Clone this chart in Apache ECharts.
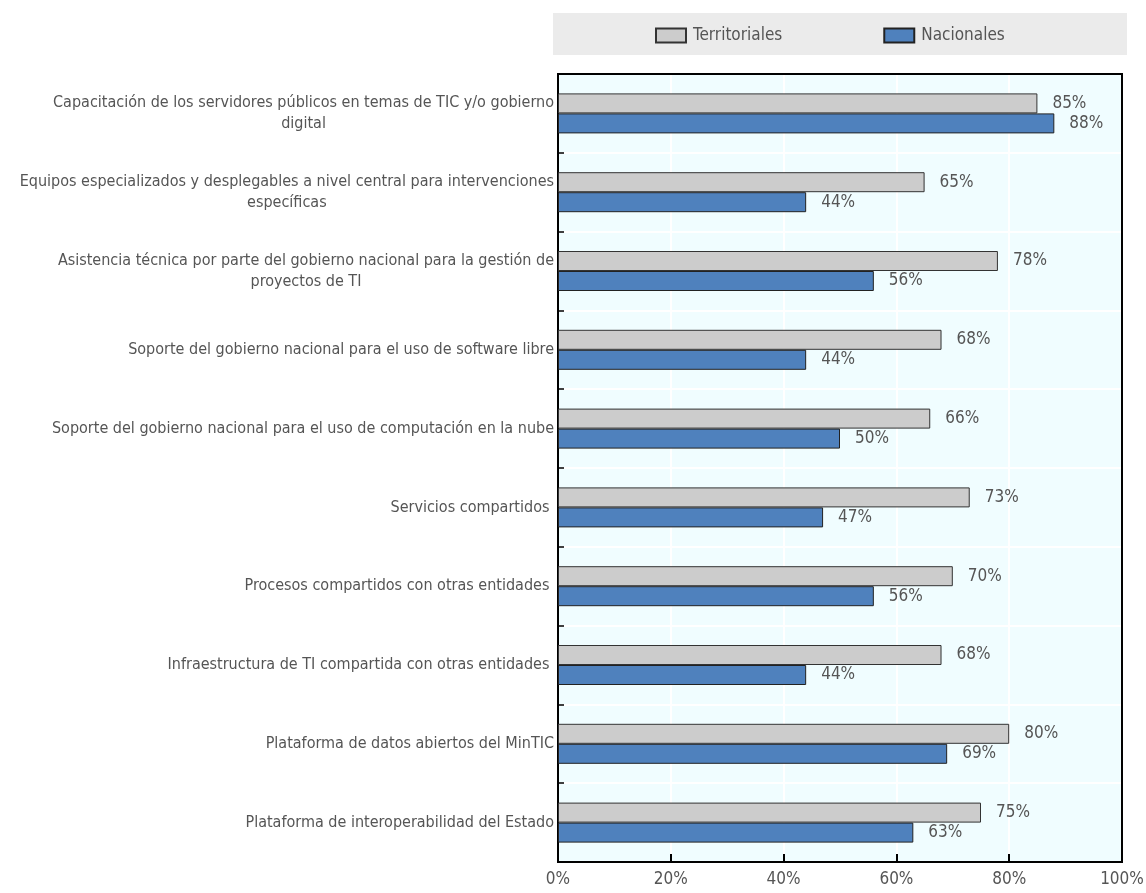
<!DOCTYPE html>
<html>
<head>
<meta charset="utf-8">
<script src="https://cdn.jsdelivr.net/npm/echarts@6/dist/echarts.min.js"></script>
<style>html,body{margin:0;padding:0;background:#fff}#c{width:1146px;height:893px}</style>
</head>
<body>
<div id="c"></div>
<script>
const categories = [
  "Capacitación de los servidores públicos en temas de TIC y/o gobierno\ndigital",
  "Equipos especializados y desplegables a nivel central para intervenciones\nespecíficas",
  "Asistencia técnica por parte del gobierno nacional para la gestión de\nproyectos de TI",
  "Soporte del gobierno nacional para el uso de software libre",
  "Soporte del gobierno nacional para el uso de computación en la nube",
  "Servicios compartidos ",
  "Procesos compartidos con otras entidades ",
  "Infraestructura de TI compartida con otras entidades ",
  "Plataforma de datos abiertos del MinTIC",
  "Plataforma de interoperabilidad del Estado"
];
const territoriales = [85, 65, 78, 68, 66, 73, 70, 68, 80, 75];
const nacionales = [88, 44, 56, 44, 50, 47, 56, 44, 69, 63];
const xTicks = [0, 20, 40, 60, 80, 100];

const FONT = "'Liberation Sans Narrow', 'Arial Narrow', 'DejaVu Sans Condensed', sans-serif";
const TXT = '#555';

const frameAxis = {
  axisLine: {show: true, onZero: false, lineStyle: {color: '#000', width: 2}},
  axisTick: {show: false}, axisLabel: {show: false}, splitLine: {show: false}, z: 10
};

const chart = echarts.init(document.getElementById('c'), null, {renderer: 'canvas'});
chart.setOption({
  animation: false,
  textStyle: {fontFamily: FONT},
  graphic: [{
    type: 'rect', z: -1,
    shape: {x: 553, y: 13, width: 574, height: 42},
    style: {fill: '#ebebeb'}
  }],
  legend: {
    left: 650, top: 22,
    itemWidth: 30, itemHeight: 14, itemGap: 101,
    icon: 'rect',
    textStyle: {fontFamily: FONT, fontSize: 17, color: TXT, padding: [0, 0, 0, 2]},
    data: ['Territoriales', 'Nacionales']
  },
  grid: {
    left: 558, right: 24, top: 74, bottom: 31,
    outerBoundsMode: 'none', containLabel: false,
    show: true, backgroundColor: '#f0fdff', borderColor: '#000', borderWidth: 2
  },
  xAxis: [{
    type: 'value', min: xTicks[0], max: xTicks[xTicks.length - 1], interval: 20,
    axisLine: {show: true, lineStyle: {color: '#000', width: 2}},
    axisTick: {show: true, inside: true, length: 8, lineStyle: {color: '#000', width: 2}},
    axisLabel: {formatter: '{value}%', color: TXT, fontSize: 17, fontFamily: FONT, margin: 9},
    splitLine: {show: true, lineStyle: {color: '#ffffff', width: 2}}
  }, Object.assign({
    type: 'value', position: 'top', min: xTicks[0], max: xTicks[xTicks.length - 1], interval: 20
  }, frameAxis)],
  yAxis: [{
    type: 'category', inverse: true, data: categories,
    axisLine: {show: true, lineStyle: {color: '#000', width: 2}},
    axisTick: {show: true, inside: true, length: 6, lineStyle: {color: '#000', width: 1.5}},
    splitLine: {show: true, lineStyle: {color: '#ffffff', width: 2}},
    axisLabel: {
      margin: 4, color: TXT, fontSize: 16, fontFamily: FONT, lineHeight: 21,
      formatter: v => v.split('\n').map(s => '{c|' + s + '}').join('\n'),
      rich: {c: {align: 'center', color: TXT, fontSize: 16, fontFamily: FONT, lineHeight: 21}}
    }
  }, Object.assign({
    type: 'category', position: 'right', inverse: true, data: categories
  }, frameAxis)],
  series: [
    {
      name: 'Territoriales', type: 'bar', data: territoriales,
      barWidth: 20, barGap: '0%',
      itemStyle: {color: '#cccccc', borderColor: '#333', borderWidth: 1},
      label: {show: true, position: 'right', distance: 15, formatter: '{c}%', color: TXT, fontSize: 17, fontFamily: FONT}
    },
    {
      name: 'Nacionales', type: 'bar', data: nacionales,
      barWidth: 20, barGap: '0%',
      itemStyle: {color: '#4f81bd', borderColor: '#222', borderWidth: 1},
      label: {show: true, position: 'right', distance: 15, formatter: '{c}%', color: TXT, fontSize: 17, fontFamily: FONT}
    }
  ]
});
</script>
</body>
</html>
